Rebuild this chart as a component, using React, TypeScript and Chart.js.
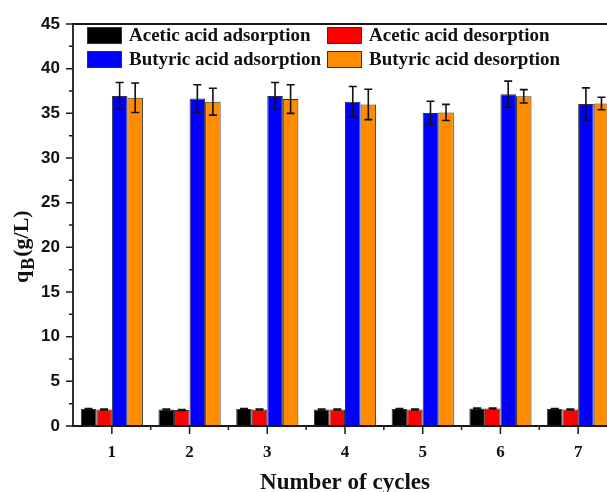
import React, { useEffect, useRef } from 'react';
import { Chart, registerables } from 'chart.js';

Chart.register(...registerables);

const categories = ['1', '2', '3', '4', '5', '6', '7'];
const seriesLabels = [
  'Acetic acid adsorption',
  'Acetic acid desorption',
  'Butyric acid adsorption',
  'Butyric acid desorption',
];
const aceticAds = [1.9, 1.85, 1.9, 1.85, 1.9, 1.95, 1.9];
const aceticAdsErr = [0.05, 0.05, 0.05, 0.05, 0.05, 0.05, 0.05];
const aceticDes = [1.85, 1.8, 1.85, 1.85, 1.85, 1.95, 1.85];
const aceticDesErr = [0.05, 0.05, 0.05, 0.05, 0.05, 0.05, 0.05];
const butyricAds = [36.95, 36.65, 36.95, 36.3, 35.05, 37.15, 36.05];
const butyricAdsErr = [1.5, 1.55, 1.5, 1.7, 1.3, 1.45, 1.8];
const butyricDes = [36.75, 36.3, 36.6, 36.0, 35.1, 36.9, 36.1];
const butyricDesErr = [1.65, 1.5, 1.6, 1.7, 0.9, 0.75, 0.7];
const seriesColors = ['#000000', '#ff0000', '#0000ff', '#ff8c00'];
const yMin = 0;
const yMax = 45;
const yStep = 5;

const errors = [aceticAdsErr, aceticDesErr, butyricAdsErr, butyricDesErr];

const AXIS = '#1a1a1a';
const SERIF = '"Liberation Serif", "Times New Roman", serif';
const SANS = '"Liberation Sans", Arial, sans-serif';

const errorBarPlugin = {
  id: 'errorBars',
  afterDatasetsDraw(chart: any) {
    const ctx = chart.ctx;
    const y = chart.scales.y;
    ctx.save();
    ctx.strokeStyle = '#111';
    ctx.lineWidth = 1.6;
    chart.data.datasets.forEach((ds: any, i: number) => {
      const meta = chart.getDatasetMeta(i);
      meta.data.forEach((el: any, j: number) => {
        const v = ds.data[j];
        const e = errors[i][j];
        const yt = y.getPixelForValue(v + e);
        const yb = y.getPixelForValue(v - e);
        const x = el.x;
        const cw = 4;
        ctx.beginPath();
        ctx.moveTo(x, yt);
        ctx.lineTo(x, yb);
        ctx.moveTo(x - cw, yt);
        ctx.lineTo(x + cw, yt);
        ctx.moveTo(x - cw, yb);
        ctx.lineTo(x + cw, yb);
        ctx.stroke();
      });
    });
    ctx.restore();
  },
};

const framePlugin = {
  id: 'frame',
  afterDraw(chart: any) {
    const ctx = chart.ctx;
    const { left, right, top, bottom } = chart.chartArea;
    const y = chart.scales.y;
    const x = chart.scales.x;
    ctx.save();
    ctx.strokeStyle = AXIS;
    ctx.lineWidth = 1.8;
    ctx.beginPath();
    ctx.rect(left, top, right - left, bottom - top);
    ctx.stroke();
    ctx.lineWidth = 1.5;
    ctx.beginPath();
    for (let v = yMin; v <= yMax + 1e-9; v += yStep / 2) {
      const py = y.getPixelForValue(v);
      const major = Math.abs(v / yStep - Math.round(v / yStep)) < 1e-6;
      ctx.moveTo(left, py);
      ctx.lineTo(left - (major ? 7 : 4), py);
    }
    const n = categories.length;
    for (let i = 0; i < n; i++) {
      const px = x.getPixelForValue(i);
      ctx.moveTo(px, bottom);
      ctx.lineTo(px, bottom + 8);
      const w = x.getPixelForValue(1) - x.getPixelForValue(0);
      const mx = px + w / 2;
      ctx.moveTo(mx, bottom);
      ctx.lineTo(mx, bottom + 4);
    }
    ctx.stroke();

    // x title
    ctx.fillStyle = '#111';
    ctx.font = 'bold 23px ' + SERIF;
    ctx.textAlign = 'center';
    ctx.textBaseline = 'alphabetic';
    ctx.fillText('Number of cycles', (left + right) / 2, 489);

    // y title with subscript
    ctx.translate(28, 283);
    ctx.rotate(-Math.PI / 2);
    ctx.textAlign = 'left';
    let cx = 0;
    ctx.font = 'bold 22px ' + SERIF;
    ctx.fillText('q', cx, 0);
    cx += ctx.measureText('q').width + 1;
    ctx.font = 'bold 18px ' + SERIF;
    ctx.fillText('B', cx, 5.5);
    cx += ctx.measureText('B').width + 1;
    ctx.font = 'bold 22px ' + SERIF;
    ctx.fillText('(g/L)', cx, 0);
    ctx.restore();

    // legend
    ctx.save();
    const cols = [left + 14, left + 254];
    const rows = [top + 3, top + 27];
    ctx.font = 'bold 19px ' + SERIF;
    ctx.textBaseline = 'middle';
    ctx.textAlign = 'left';
    chart.data.datasets.forEach((ds: any, i: number) => {
      const bx = cols[i % 2];
      const by = rows[Math.floor(i / 2)];
      ctx.fillStyle = ds.backgroundColor;
      ctx.fillRect(bx, by, 35, 17);
      ctx.strokeStyle = '#333';
      ctx.lineWidth = 1;
      ctx.strokeRect(bx + 0.5, by + 0.5, 34, 16);
      ctx.fillStyle = '#111';
      ctx.fillText(ds.label, bx + 42, by + 9);
    });
    ctx.restore();
  },
};

export default function App() {
  const ref = useRef<HTMLCanvasElement | null>(null);
  useEffect(() => {
    if (!ref.current) return;
    const values = [aceticAds, aceticDes, butyricAds, butyricDes];
    const chart = new Chart(ref.current, {
      type: 'bar',
      data: {
        labels: categories,
        datasets: values.map((d, i) => ({
          label: seriesLabels[i],
          data: d,
          backgroundColor: seriesColors[i],
          borderColor: '#333',
          borderWidth: 1,
          categoryPercentage: 0.8,
          barPercentage: 1.0,
        })),
      },
      options: {
        responsive: false,
        animation: false,
        devicePixelRatio: 1,
        layout: { padding: { left: 0, top: 24, right: 13, bottom: 0 } },
        plugins: {
          legend: { display: false },
          tooltip: { enabled: false },
        },
        scales: {
          x: {
            type: 'category',
            offset: true,
            grid: { display: false, drawTicks: false },
            border: { display: false },
            ticks: {
              color: '#111',
              font: { family: SERIF, size: 17, weight: 'bold' },
              padding: 16,
            },
            afterFit: (s: any) => {
              s.height = 66;
            },
          },
          y: {
            min: yMin,
            max: yMax,
            grid: { display: false, drawTicks: false },
            border: { display: false },
            ticks: {
              stepSize: yStep,
              color: '#111',
              font: { family: SANS, size: 17, weight: 'bold' },
              padding: 13,
            },
            afterFit: (s: any) => {
              s.width = 73;
            },
          },
        },
      } as any,
      plugins: [errorBarPlugin, framePlugin],
    });
    return () => chart.destroy();
  }, []);
  return (
    <div
      style={{
        position: 'fixed',
        left: 0,
        top: 0,
        width: 607,
        height: 492,
        overflow: 'hidden',
        background: '#fff',
      }}
    >
      <canvas ref={ref} width={630} height={492} style={{ display: 'block', width: 630, height: 492 }} />
    </div>
  );
}
